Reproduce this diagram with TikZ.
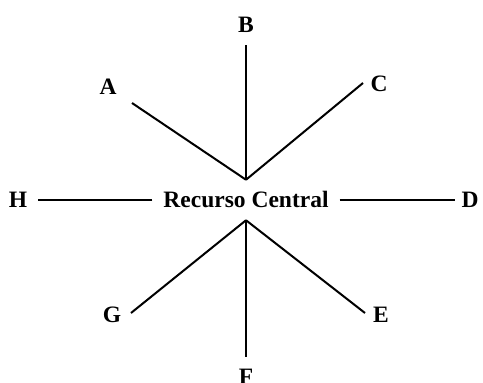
\documentclass[tikz,border=0pt]{standalone}
\usepackage{fontspec}
\setmainfont{Liberation Serif}
\usetikzlibrary{positioning}

\begin{document}
\begin{tikzpicture}[x=1pt,y=-1pt,
  lbl/.style={font=\fontsize{23.5}{28}\selectfont\bfseries,inner sep=0pt,text depth=0pt},
  spoke/.style={line width=2pt,black}]
\useasboundingbox (0,0) rectangle (483,383);
\node[lbl,text height=15.5pt,outer xsep=11pt,outer ysep=12.5pt] (c) at (246,200) {Recurso Central};
\node[lbl] (a) at (108,87) {A};
\node[lbl] (b) at (246,25) {B};
\node[lbl] (cc) at (379,84) {C};
\node[lbl] (d) at (470,200) {D};
\node[lbl] (e) at (381,315) {E};
\node[lbl] (f) at (246,377) {F};
\node[lbl] (g) at (112,315) {G};
\node[lbl] (h) at (18,200) {H};
\coordinate (pa) at (132,103);
\coordinate (pb) at (246,45);
\coordinate (pc) at (363,83);
\coordinate (pd) at (455,200);
\coordinate (pe) at (365,313);
\coordinate (pf) at (246,357);
\coordinate (pg) at (131,313);
\coordinate (ph) at (38,200);
\draw[spoke] (c.north) -- (pa);
\draw[spoke] (c.north) -- (pb);
\draw[spoke] (c.north) -- (pc);
\draw[spoke] (c.east) -- (pd);
\draw[spoke] (c.south) -- (pe);
\draw[spoke] (c.south) -- (pf);
\draw[spoke] (c.south) -- (pg);
\draw[spoke] (c.west) -- (ph);
\end{tikzpicture}
\end{document}
